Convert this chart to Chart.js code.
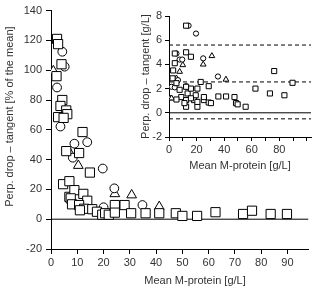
<!DOCTYPE html>
<html>
<head>
<meta charset="utf-8">
<script src="https://cdn.jsdelivr.net/npm/chart.js@4"></script>
<style>
  body { margin: 0; background: #fff; }
  #wrap { position: relative; width: 316px; height: 289px; }
  #main { position: absolute; left: 0; top: 0; }
  #inset { position: absolute; left: 135px; top: 0; }
</style>
</head>
<body>
<div id="wrap">
  <canvas id="main" width="316" height="289"></canvas>
  <canvas id="inset" width="181" height="175"></canvas>
</div>
<script>
// Dados do grafico principal [M-protein g/L, % da media]
var mainSquares = [[2.3,121],[2.7,117.5],[4,104],[2.1,96],[4.3,80],[3.6,76],[5.8,73],[6.2,70.5],[2.7,68.5],[4.8,68],
  [12,58.5],[5.8,45.7],[10.7,44.4],[14.8,31.3],[4.6,23.5],[7,25.5],[7,15],[8.9,19.5],[12.3,17],[7.5,14],
  [13.8,12.4],[8,10],[10.7,9.5],[12.6,7],[11,6],[15.7,6.7],[17.5,5],[19.5,3],[20.6,4],[22,3],
  [24.3,9.5],[24.3,4.4],[28,9.5],[30.5,4],[36,4],[41.2,4],[47.5,4],[50,2.2],[55.6,2.2],[62.6,4.7],
  [73.1,3.5],[76.5,5.7],[83.6,3.5],[89.8,3.5]];
var mainCircles = [[4.3,112.4],[5.2,102.4],[2.3,88.4],[3.6,62.2],[13.8,51.7],[8.9,50.7],[8.3,41.3],[19.7,34],
  [24.1,20.7],[20,8],[34.8,9.5]];
var mainTriangles = [[0.9,99.5],[7,45],[10.4,36],[24.3,17],[30.7,16.2],[41.2,8.4]];

// Dados do grafico menor [M-protein g/L, g/L]
var insetSquares = [[12.4,7.2],[12.4,5],[15.9,4.63],[4.2,4.9],[4.2,4.1],[3,3.5],[2.6,2.85],[5.4,2.45],[7.7,1.9],
  [8.9,1.3],[12.4,1.05],[12.4,0.5],[13.5,1.6],[15.9,2],[18.2,1.05],[20.6,0.5],[19.4,1.45],[12.4,2.15],[20.6,2],
  [5.4,1.1],[11.2,0.8],[15.9,1.2],[20.6,0.9],[25.3,1.05],[23,2.55],[28.8,2.2],[25.3,1.3],[28.8,0.85],[30.4,0.8],
  [35.8,1.35],[41.4,1.35],[47.5,1.3],[48.6,0.8],[49.8,0.7],[55.6,0.5],[62.7,2],[73.2,1.6],[76.3,3.45],
  [83.7,1.45],[89.6,2.48]];
var insetCircles = [[14.2,7.2],[19.6,6.55],[5.4,4.9],[7.7,4.4],[9.6,4.4],[24.8,4.5],[35.5,3],[1.9,2.15],[4.2,2.1],
  [6.5,2.7],[12.4,2.2]];
var insetTriangles = [[31.1,4.7],[24.8,4],[10,3.95],[7.7,3.4],[5.4,2.85],[41.3,2.75],[0.7,1.2],[1.9,1.2]];
var insetDashed = [5.6, 2.55, -0.5];

// Eixos
var mainXTicks = [0,10,20,30,40,50,60,70,80,90];
var mainYTicks = [-20,0,20,40,60,80,100,120,140];
var insetXTicks = [0,10,20,30,40,50,60,70,80,90,100];
var insetXLabels = [0,20,40,60,80];
var insetYTicks = [-2,0,2,4,6,8];
var tituloX = 'Mean M-protein [g/L]';
var tituloYMain = 'Perp. drop \u2013 tangent [% of the mean]';
var tituloYInset = 'Perp. drop \u2013 tangent [g/L]';

Chart.defaults.font.family = "'Liberation Sans', Arial, sans-serif";
Chart.defaults.color = '#333';

function pontos(lista) {
    return lista.map(p => ({ x: p[0], y: p[1] }));
}
function serie(lista, estilo, raio) {
    return {
        type: 'scatter',
        data: pontos(lista),
        pointStyle: estilo,
        pointRadius: raio,
        pointBackgroundColor: '#fff',
        pointBorderColor: '#000',
        pointBorderWidth: 1,
        order: 1
    };
}
function linha(y, xMax, dash) {
    return {
        type: 'line',
        data: [{ x: 0, y: y }, { x: xMax, y: y }],
        borderColor: '#000',
        borderWidth: 1,
        borderDash: dash,
        pointRadius: 0,
        order: 10
    };
}

// titulos do grafico principal (fora do centro da area)
const titulosPlugin = {
    id: 'titulos',
    afterDraw(chart) {
        const { ctx, chartArea } = chart;
        ctx.save();
        ctx.fillStyle = '#333';
        ctx.font = "11px 'Liberation Sans', Arial, sans-serif";
        ctx.textAlign = 'center';
        ctx.textBaseline = 'middle';
        ctx.fillText(tituloX, chartArea.left + 144, chartArea.bottom + 32);
        ctx.translate(10, chartArea.top + 106);
        ctx.rotate(-Math.PI / 2);
        ctx.fillText(tituloYMain, 0, 0);
        ctx.restore();
    }
};

const eixoBase = {
    border: { color: '#000', width: 1 },
    grid: { drawOnChartArea: false, color: '#000', tickLength: 5 },
    ticks: { font: { size: 11 }, color: '#333', autoSkip: false, maxRotation: 0 }
};

new Chart(document.getElementById('main'), {
    data: {
        datasets: [
            linha(0, 98, []),
            serie(mainSquares, 'rect', 6.5),
            serie(mainCircles, 'circle', 4.4),
            serie(mainTriangles, 'triangle', 5.6)
        ]
    },
    options: {
        responsive: false,
        animation: false,
        layout: { padding: { top: 9, right: 1, left: 0, bottom: 0 } },
        plugins: { legend: { display: false }, tooltip: { enabled: false } },
        scales: {
            x: Object.assign({}, eixoBase, {
                type: 'linear', min: 0, max: 98,
                ticks: Object.assign({}, eixoBase.ticks, { padding: 2 }),
                afterBuildTicks: s => { s.ticks = mainXTicks.map(v => ({ value: v })); },
                afterFit: s => { s.height = 40; }
            }),
            y: Object.assign({}, eixoBase, {
                type: 'linear', min: -20, max: 140,
                ticks: Object.assign({}, eixoBase.ticks, { padding: 4 }),
                afterBuildTicks: s => { s.ticks = mainYTicks.map(v => ({ value: v })); },
                afterFit: s => { s.width = 51; }
            })
        }
    },
    plugins: [titulosPlugin]
});

// grafico menor no canto
var insetSets = [linha(0, 103, [])];
insetDashed.forEach(v => insetSets.push(linha(v, 103, [4, 3])));
insetSets.push(serie(insetSquares, 'rect', 3.6));
insetSets.push(serie(insetCircles, 'circle', 2.6));
insetSets.push(serie(insetTriangles, 'triangle', 3.3));

new Chart(document.getElementById('inset'), {
    data: { datasets: insetSets },
    options: {
        responsive: false,
        animation: false,
        layout: { padding: { top: 16, right: 0, left: 0, bottom: 0 } },
        plugins: { legend: { display: false }, tooltip: { enabled: false } },
        scales: {
            x: Object.assign({}, eixoBase, {
                type: 'linear', min: 0, max: 103,
                grid: Object.assign({}, eixoBase.grid, { tickLength: 4 }),
                ticks: Object.assign({}, eixoBase.ticks, {
                    padding: 2,
                    callback: v => (insetXLabels.includes(v) ? v : '')
                }),
                title: { display: true, text: tituloX, font: { size: 11 }, color: '#333', padding: { top: 0, bottom: 2 } },
                afterBuildTicks: s => { s.ticks = insetXTicks.map(v => ({ value: v })); },
                afterFit: s => { s.height = 38; }
            }),
            y: Object.assign({}, eixoBase, {
                type: 'linear', min: -2, max: 8,
                grid: Object.assign({}, eixoBase.grid, { tickLength: 4 }),
                ticks: Object.assign({}, eixoBase.ticks, { padding: 3 }),
                title: { display: true, text: tituloYInset, font: { size: 11 }, color: '#333', padding: { top: 4, bottom: 0 } },
                afterBuildTicks: s => { s.ticks = insetYTicks.map(v => ({ value: v })); },
                afterFit: s => { s.width = 34; }
            })
        }
    }
});
</script>
</body>
</html>
